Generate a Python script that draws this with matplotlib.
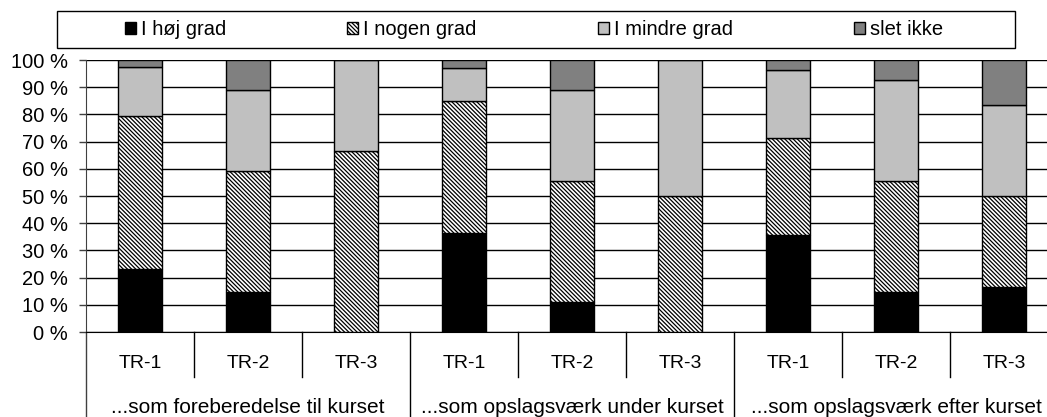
import matplotlib.pyplot as plt
from matplotlib.patches import Rectangle
from matplotlib.lines import Line2D
import numpy as np

plt.rcParams['font.family'] = ['Liberation Sans', 'DejaVu Sans']
plt.rcParams['hatch.linewidth'] = 0.9

groups = ['...som foreberedelse til kurset', '...som opslagsværk under kurset', '...som opslagsværk efter kurset']
kurser = ['TR-1', 'TR-2', 'TR-3']
series = ['I høj grad', 'I nogen grad', 'I mindre grad', 'slet ikke']

hoej = [23.1, 14.8, 0, 36.4, 11.1, 0, 35.7, 14.8, 16.7]
nogen = [56.4, 44.4, 66.7, 48.5, 44.4, 50.0, 35.7, 40.7, 33.3]
mindre = [17.9, 29.6, 33.3, 12.1, 33.3, 50.0, 25.0, 37.0, 33.3]
slet = [2.6, 11.1, 0, 3.0, 11.1, 0, 3.6, 7.4, 16.7]

W, H = 1047, 417
fig = plt.figure(figsize=(W / 100, H / 100), dpi=100)
# plot area runs a bit past the right edge, like the cropped original
ax = fig.add_axes([86 / W, 85 / H, 972 / W, 272 / H])

x = np.arange(len(hoej))
styles = [
    dict(color='black'),
    dict(color='white', hatch='\\' * 8),
    dict(color='#c0c0c0'),
    dict(color='#808080'),
]
bottom = np.zeros(len(x))
handles = []
for vals, name, st in zip([hoej, nogen, mindre, slet], series, styles):
    b = ax.bar(x, vals, 0.4, bottom=bottom, edgecolor='black', linewidth=1,
               label=name, zorder=3, **st)
    handles.append(b)
    bottom += np.array(vals)

ax.set_xlim(-0.5, 8.5)
ax.set_ylim(0, 100)
ax.set_yticks(range(0, 101, 10))
ax.set_yticklabels([f'{v} %' for v in range(0, 101, 10)], fontsize=14.5)
ax.tick_params(axis='y', length=5, width=1, pad=8, color='#404040')
ax.tick_params(axis='x', bottom=False, labelbottom=False)
ax.yaxis.grid(True, color='black', linewidth=1, zorder=0)
ax.set_axisbelow(True)
for s in ['top', 'right']:
    ax.spines[s].set_visible(False)
ax.spines['left'].set_color('#404040')
ax.spines['bottom'].set_color('black')

# two-level category axis
tr = ax.get_xaxis_transform()
for i in x:
    ax.text(i, -0.114, kurser[i % 3], transform=tr, ha='center', va='center', fontsize=14)
for k in range(1, 9):
    y0 = -0.3125 if k % 3 == 0 else -0.165
    ax.add_line(Line2D([k - 0.5, k - 0.5], [0, y0], transform=tr, color='black',
                       linewidth=1, clip_on=False))
ax.add_line(Line2D([-0.5, -0.5], [0, -0.3125], transform=tr, color='#404040',
                   linewidth=1, clip_on=False))
for g, name in enumerate(groups):
    ax.text(3 * g + 1, -0.279, name, transform=tr, ha='center', va='center', fontsize=15)

# legend box
fig.patches.append(Rectangle((57 / W, 1 - 48 / H), (1015 - 57) / W, 37 / H,
                             transform=fig.transFigure, fill=False,
                             edgecolor='black', linewidth=1))
fig.legend(handles, series, loc='center', bbox_to_anchor=(534 / W, 1 - 29.5 / H),
           ncol=4, frameon=False, fontsize=14.5, handlelength=0.55, handleheight=0.55,
           handletextpad=0.25, columnspacing=6.0)

fig.savefig('out.png', dpi=100)
